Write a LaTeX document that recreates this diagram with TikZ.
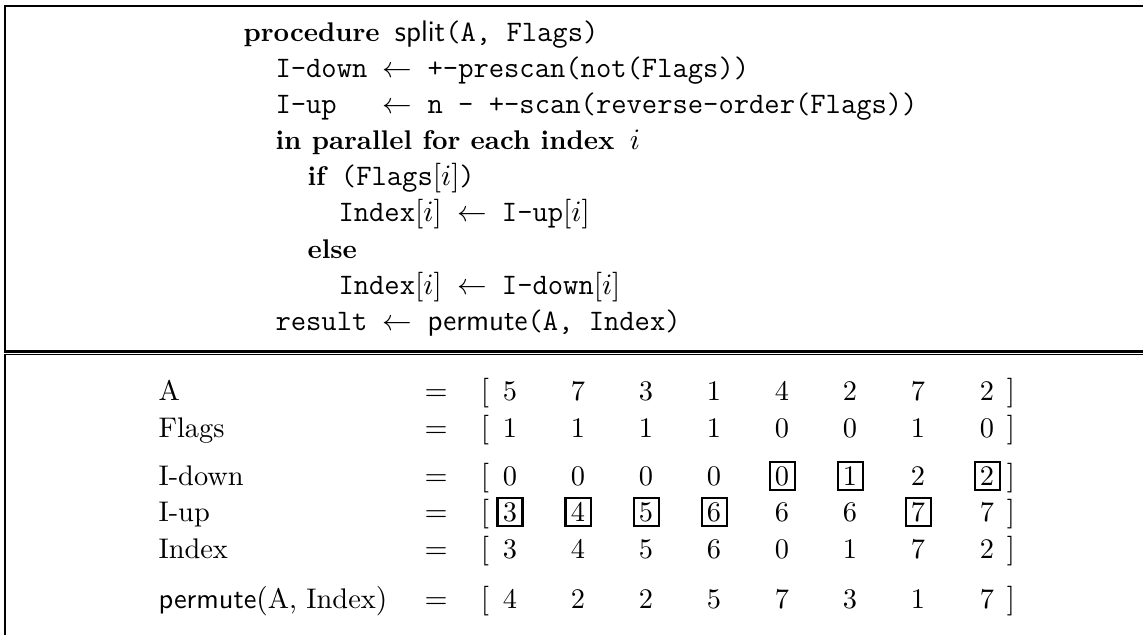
\documentclass[tikz,border=0pt]{standalone}
\newcommand{\kwd}[1]{{\fontsize{10}{12}\selectfont\normalfont\bfseries #1}}
\newcommand{\fnm}[1]{{\normalfont\sffamily #1}}
\tikzset{
  code/.style={anchor=base west, inner sep=0pt, font=\fontsize{11}{13}\selectfont\ttfamily},
  lbl/.style={anchor=base west, inner sep=0pt, font=\fontsize{10.5}{12.5}\selectfont},
  val/.style={anchor=base, inner sep=0pt, font=\fontsize{10.5}{12.5}\selectfont},
  cellbox/.style={draw=black, line width=0.75pt}
}
\tikzstyle{frame} = [black, line width=0.85pt]
\tikzstyle{thinframe} = [black, line width=0.4pt]

\begin{document}
\begin{tikzpicture}[x=0.37pt, y=-0.37pt]
    \useasboundingbox (0,0) rectangle (1143,635);
    % frames
    \draw [frame] (1143,6) -- (5,6) -- (5,351.5) -- (1143,351.5);
    \draw [thinframe] (1143,354.2) -- (4,354.2);
    \draw [frame] (5,354.2) -- (5,635);

    % the procedure
    \node [code] (l1) at (243,41)  {\kwd{procedure} \fnm{split}(A, Flags)};
    \node [code] (l2) at (275,77)  {I-down $\leftarrow$ +-prescan(not(Flags))};
    \node [code] (l3) at (275,113) {I-up\ \ \ $\leftarrow$ n - +-scan(reverse-order(Flags))};
    \node [code] (l4) at (275,149) {\kwd{in parallel for each index} $i$};
    \node [code] (l5) at (307,185) {\kwd{if} (Flags$[i]$)};
    \node [code] (l6) at (338,221) {Index$[i]$ $\leftarrow$ I-up$[i]$};
    \node [code] (l7) at (307,258) {\kwd{else}};
    \node [code] (l8) at (338,294) {Index$[i]$ $\leftarrow$ I-down$[i]$};
    \node [code] (l9) at (275,330) {result $\leftarrow$ \fnm{permute}(A, Index)};

    % the example
    \foreach \n/\t/\y/\vals in {
        a/A/400/{5,7,3,1,4,2,7,2},
        f/Flags/437/{1,1,1,1,0,0,1,0},
        d/I-down/485/{0,0,0,0,0,1,2,2},
        u/I-up/521/{3,4,5,6,6,6,7,7},
        x/Index/558/{3,4,5,6,0,1,7,2},
        p/{\fnm{permute}$($A, Index$)$}/608/{4,2,2,5,7,3,1,7}} {
        \node [lbl] (\n-lb) at (158,\y) {\t};
        \node [val] (\n-eq) at (436,\y) {$=$};
        \node [val] (\n-ob) at (485,\y) {$[$};
        \foreach \v [count=\c] in \vals
            \node [val] (\n\c) at ({ifthenelse(\c<8,442+68*\c,987)},\y) {\v};
        \node [val] (\n-cb) at (1011,\y) {$]$};
    }

    \foreach \b in {d5,d6,d8,u1,u2,u3,u4,u7}
        \draw [cellbox] (\b.base) ++(-12.5,5) rectangle ++(25,-28);
\end{tikzpicture}
\end{document}
